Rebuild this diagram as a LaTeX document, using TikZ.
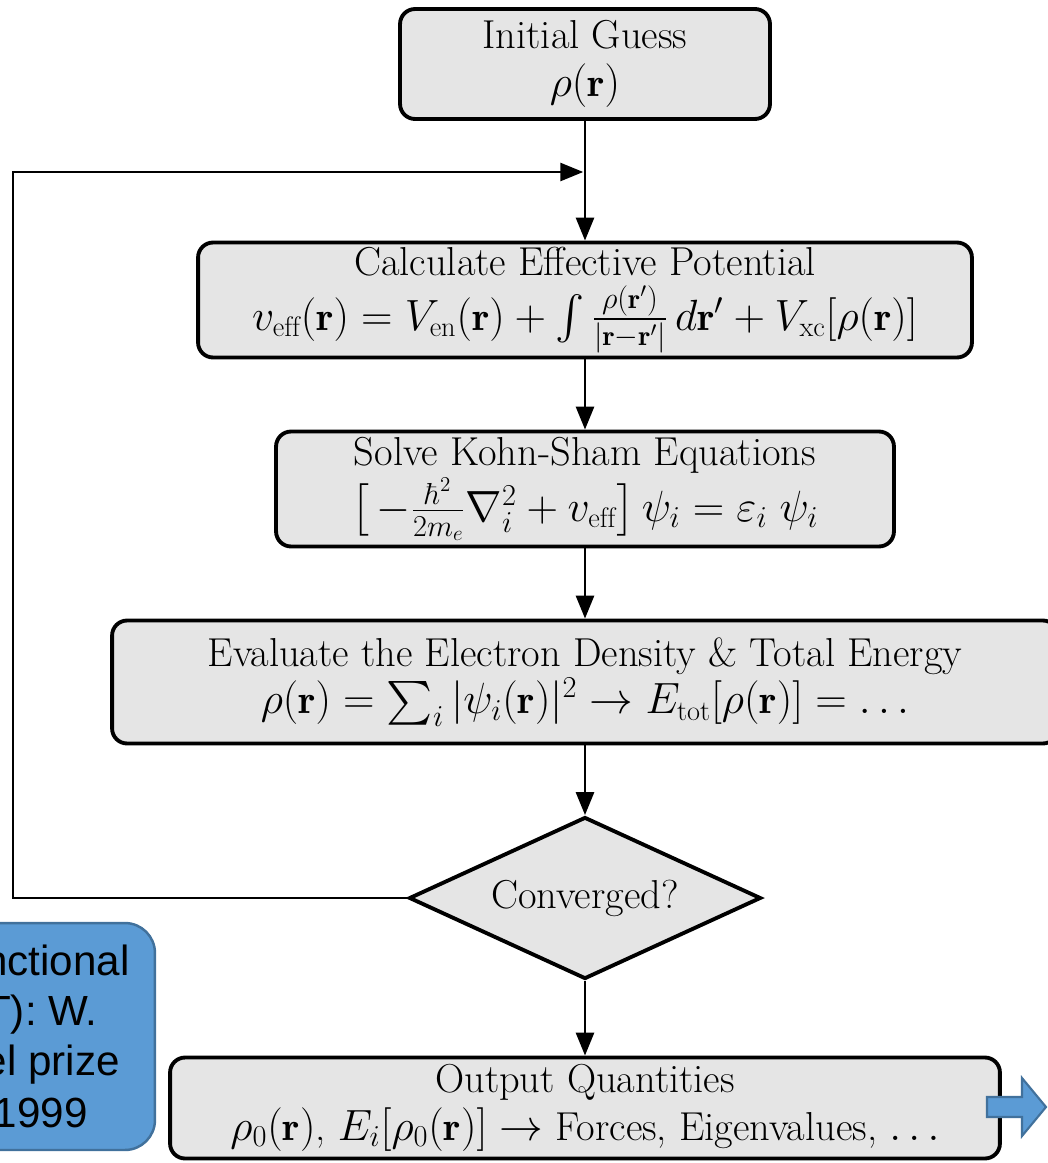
\documentclass[tikz,border=0pt]{standalone}
\usepackage{amsmath}
\usepackage{fontspec}
\newfontfamily\notefont{Liberation Sans}
\usetikzlibrary{shapes.geometric,arrows.meta}

\definecolor{notefill}{HTML}{5B9BD5}
\definecolor{noteline}{HTML}{41719C}
\def\boxfont{\fontsize{23}{27}\selectfont\lineskip=2.5pt\addfontfeatures{FakeStretch=1.15,FakeBold=1}}

\begin{document}
\begin{tikzpicture}[x=0.02cm,y=-0.02cm]
		\tikzstyle{stage}=[draw=black,line width=2.2pt,fill=black!10,rounded corners=0.3cm,align=center,inner sep=0pt,font=\boxfont]
		\tikzstyle{test}=[diamond,aspect=2.2,draw=black,line width=2.2pt,fill=black!10,inner sep=0pt,font=\boxfont]
		\tikzstyle{flow}=[line width=1.6pt,-{Triangle[length=0.46cm,width=0.36cm]}]
		\tikzstyle{note}=[draw=noteline,line width=1.4pt,fill=notefill,rounded corners=0.6cm,minimum width=7.1cm,minimum height=4.54cm]
		\tikzstyle{note line}=[anchor=base east,inner sep=0pt,font=\notefont\fontsize{24}{29}\selectfont]

		\clip (0,0) rectangle (1048,1163);

			% Draw the stages of the loop
		\node[stage,minimum width=7.4cm,minimum height=2.2cm] (guess) at (585,64)
			{Initial Guess\\$\rho(\mathbf{r})$};
		\node[stage,minimum width=15.48cm,minimum height=2.3cm] (effpot) at (585,300)
			{Calculate Effective Potential\\[4pt]$v_{\mathrm{eff}}(\mathbf{r}) = V_{\mathrm{en}}(\mathbf{r}) + \int \frac{\rho(\mathbf{r}')}{|\mathbf{r}-\mathbf{r}'|}\,d\mathbf{r}' + V_{\mathrm{xc}}[\rho(\mathbf{r})]$};
		\node[stage,minimum width=12.36cm,minimum height=2.3cm] (kohnsham) at (585,489)
			{Solve Kohn-Sham Equations\\$\bigl[\,-\frac{\hbar^2}{2m_e}\nabla_i^2 + v_{\mathrm{eff}}\bigr]\,\psi_i = \varepsilon_i\;\psi_i$};
		\node[stage,minimum width=18.92cm,minimum height=2.46cm] (density) at (585,682)
			{Evaluate the Electron Density \& Total Energy\\$\rho(\mathbf{r}) = \sum_i |\psi_i(\mathbf{r})|^2 \rightarrow E_{\mathrm{tot}}[\rho(\mathbf{r})] = \ldots$};
		\node[test,minimum width=7.04cm,minimum height=3.24cm] (conv) at (585,898) {Converged?};
		\node[stage,minimum width=16.6cm,minimum height=2.02cm] (output) at (585,1108)
			{Output Quantities\\$\rho_0(\mathbf{r})$, $E_i[\rho_0(\mathbf{r})] \rightarrow$ Forces, Eigenvalues, $\ldots$};

			% Connect every stage with the next one
		\foreach \source / \dest in {guess/effpot,effpot/kohnsham,kohnsham/density,density/conv,conv/output}
		\draw[flow] (\source.south) -- (\dest.north);

			% Feed back into the loop
		\coordinate (loop) at (13,172);
		\coordinate (join) at (585,172);
		\draw[flow,shorten >=1pt] (conv.west) -| (loop) -- (join);

			% The note box, cut at the left edge
		\node[note] (nobel) at (-22.5,1036.5) {};
		\foreach \name / \txt / \x / \y in {1/nctional/130/975,2/{T): W.}/98/1025,3/el prize/120/1075,4/1999/88/1127}
		\node[note line] (nobel-\name) at (\x,\y) {\txt};

			% Block arrow going out of the output
		\draw[draw=noteline,line width=1.2pt,fill=notefill] (987,1097) -- (1022,1097) -- (1022,1078) -- (1046,1107) -- (1022,1136) -- (1022,1117) -- (987,1117) -- cycle;
\end{tikzpicture}
\end{document}
